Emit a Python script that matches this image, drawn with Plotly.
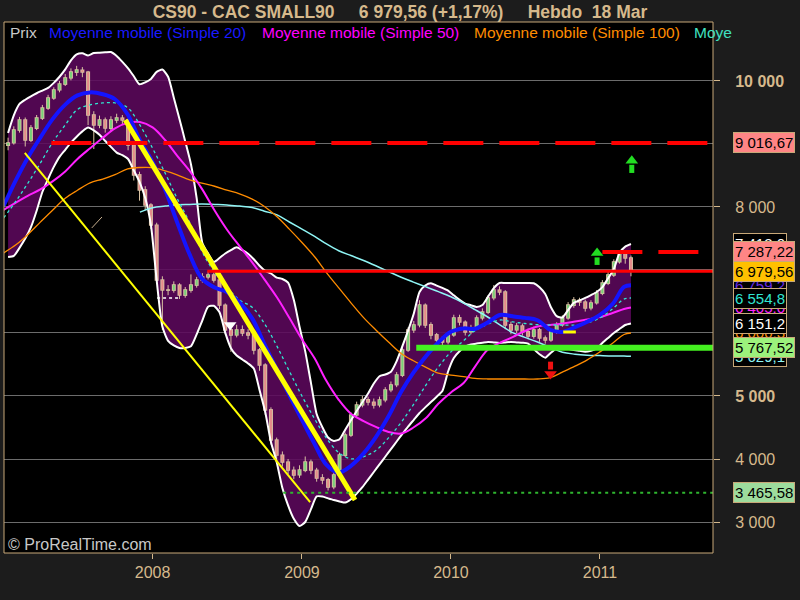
import plotly.graph_objects as go
import pandas as pd

# ---------------- data ----------------
candle_dates = pd.date_range(end="2011-03-18", periods=110, freq="14D")

close = [9016, 9222, 9381, 9063, 9254, 9413, 9571, 9730, 9857, 9952,
         10048, 10143, 10175, 10143, 9460, 9302, 9381, 9254, 9381, 9413,
         9381, 8984, 8508, 8270, 8032, 7714, 6841, 6683, 6683, 6762,
         6603, 6683, 6762, 6841, 6889, 6921, 6841, 6444, 6048, 5968,
         6048, 6000, 5968, 5730, 5492, 4778, 4302, 4063, 3952, 3825,
         3746, 3825, 3952, 3825, 3698, 3667, 3555, 3746, 4063, 4381,
         4698, 4857, 4937, 4905, 4857, 4937, 5095, 5175, 5333, 5730,
         6048, 6127, 6444, 6127, 5968, 5889, 5857, 5968, 6238, 6175,
         6016, 6079, 6238, 6333, 6556, 6683, 6651, 6127, 6048, 6111,
         6016, 5952, 6048, 5921, 5889, 6016, 6127, 6238, 6444, 6524,
         6492, 6397, 6476, 6635, 6794, 6921, 7127, 7270, 7191, 6980]
open_ = [8980, 9020, 9220, 9380, 9060, 9250, 9410, 9570, 9730, 9860,
         9950, 10050, 10140, 10170, 10140, 9460, 9300, 9380, 9250, 9380,
         9410, 9380, 8980, 8510, 8270, 8030, 7710, 6840, 6680, 6680,
         6760, 6600, 6680, 6760, 6840, 6890, 6920, 6840, 6440, 6050,
         5970, 6050, 6000, 5970, 5730, 5490, 4780, 4300, 4060, 3950,
         3820, 3750, 3820, 3950, 3820, 3700, 3670, 3560, 3750, 4060,
         4380, 4700, 4860, 4940, 4900, 4860, 4940, 5100, 5180, 5330,
         5730, 6050, 6130, 6440, 6130, 5970, 5890, 5860, 5970, 6240,
         6170, 6020, 6080, 6240, 6330, 6560, 6680, 6650, 6130, 6050,
         6110, 6020, 5950, 6050, 5920, 5890, 6020, 6130, 6240, 6440,
         6520, 6490, 6400, 6480, 6630, 6790, 6920, 7130, 7270, 7190]
high = [9100, 9280, 9430, 9420, 9300, 9460, 9620, 9780, 9900, 10000,
        10110, 10200, 10240, 10220, 10160, 9520, 9450, 9420, 9440, 9480,
        9460, 9400, 9000, 8560, 8330, 8060, 7750, 6900, 6760, 6820,
        6790, 6730, 6930, 6890, 6950, 6980, 6960, 6870, 6470, 6100,
        6130, 6120, 6060, 6010, 5760, 5520, 4820, 4340, 4120, 4000,
        3880, 3900, 4040, 3990, 3860, 3760, 3700, 3790, 4100, 4420,
        4740, 4910, 5000, 4990, 4960, 4990, 5140, 5230, 5380, 5780,
        6090, 6190, 6520, 6470, 6170, 6000, 5950, 6010, 6290, 6290,
        6200, 6130, 6280, 6390, 6600, 6760, 6740, 6680, 6180, 6160,
        6150, 6070, 6100, 6080, 5960, 6060, 6170, 6280, 6490, 6570,
        6560, 6530, 6520, 6680, 6840, 6970, 7170, 7290, 7287, 7230]
low = [8900, 8990, 9180, 8960, 9030, 9220, 9380, 9540, 9700, 9820,
       9920, 10010, 10080, 10060, 9300, 8920, 9250, 9180, 9200, 9330,
       9300, 8900, 8420, 8100, 7950, 7650, 6780, 6050, 6600, 6640,
       6540, 6560, 6640, 6720, 6800, 6850, 6800, 6380, 5980, 5700,
       5930, 5950, 5900, 5660, 5400, 4700, 4230, 3980, 3880, 3760,
       3680, 3700, 3790, 3760, 3640, 3600, 3500, 3520, 3720, 4030,
       4350, 4660, 4820, 4850, 4800, 4820, 4900, 5060, 5140, 5300,
       5700, 6000, 6090, 6080, 5900, 5820, 5800, 5820, 5940, 6120,
       5960, 5980, 6050, 6200, 6300, 6520, 6600, 6060, 5980, 6000,
       5960, 5900, 5910, 5860, 5830, 5860, 5990, 6100, 6210, 6400,
       6430, 6340, 6360, 6450, 6600, 6760, 6890, 7100, 7100, 6900]

boll_upper = [9175, 9454, 9635, 9702, 9757, 9805, 9848, 9890, 9970, 10067,
              10183, 10327, 10422, 10440, 10405, 10444, 10449, 10455, 10460, 10398,
              10303, 10200, 10075, 9949, 9978, 10033, 10144, 10181, 10068, 9735,
              9392, 9041, 8679, 8140, 7429, 7262, 7129, 7191, 7262, 7316,
              7360, 7314, 7259, 7171, 7068, 6986, 6944, 6879, 6857, 6800,
              6527, 6100, 5708, 5209, 4714, 4505, 4341, 4287, 4314, 4465,
              4614, 4762, 4902, 5041, 5198, 5313, 5341, 5386, 5554, 5790,
              6038, 6310, 6651, 6754, 6790, 6752, 6716, 6673, 6598, 6525,
              6467, 6441, 6414, 6444, 6579, 6713, 6794, 6794, 6794, 6794,
              6794, 6794, 6789, 6725, 6618, 6408, 6267, 6246, 6364, 6478,
              6517, 6556, 6602, 6651, 6729, 6868, 7014, 7271, 7371, 7413]
boll_lower = [7206, 7224, 7351, 7498, 7679, 7940, 8238, 8443, 8636, 8795,
              8908, 9022, 9116, 9200, 9260, 9216, 9146, 9048, 8954, 8863,
              8824, 8762, 8581, 8400, 8144, 7713, 6838, 6102, 5876, 5803,
              5762, 5762, 5789, 5978, 6200, 6417, 6432, 6329, 6005, 5759,
              5643, 5579, 5517, 5435, 5095, 4746, 4270, 3952, 3540, 3263,
              3051, 2935, 3000, 3203, 3406, 3403, 3375, 3348, 3327, 3308,
              3360, 3451, 3552, 3673, 3794, 3914, 4036, 4157, 4278, 4398,
              4514, 4622, 4730, 4819, 4903, 4989, 5079, 5389, 5603, 5711,
              5782, 5817, 5832, 5844, 5856, 5849, 5843, 5849, 5857, 5851,
              5846, 5832, 5744, 5663, 5608, 5687, 5755, 5771, 5749, 5730,
              5716, 5703, 5719, 5754, 5841, 5921, 6000, 6064, 6127, 6151]

ma_dates = list(pd.date_range("2007-01-01", periods=51, freq="MS")) + [pd.Timestamp("2011-03-18")]
ma20 = [8016, 8438, 8779, 9102, 9394, 9625, 9771, 9819, 9790, 9710,
        9468, 9060, 8713, 8268, 7760, 7243, 6863, 6721, 6651, 6484,
        6232, 5822, 5413, 5013, 4621, 4238, 3916, 3784, 3892, 4089,
        4348, 4679, 5067, 5370, 5633, 5849, 6019, 6073, 6067, 6167,
        6286, 6265, 6240, 6202, 6051, 6017, 6092, 6179, 6289, 6460,
        6732, 6759]
ma_dashed = [7825, 8100, 8373, 8695, 9024, 9302, 9548, 9621, 9651, 9651,
             9576, 9300, 8932, 8535, 8138, 7752, 7295, 6962, 6730, 6524,
             6408, 6151, 5787, 5394, 5000, 4637, 4341, 4103, 4003, 4037,
             4135, 4335, 4581, 4862, 5176, 5460, 5700, 5878, 6038, 6138,
             6206, 6176, 6151, 6132, 6127, 6127, 6127, 6160, 6237, 6384,
             6538, 6555]
ma50 = [7952, 8073, 8176, 8278, 8406, 8565, 8762, 8933, 9098, 9249,
        9335, 9349, 9263, 9059, 8816, 8571, 8287, 7944, 7643, 7378,
        7121, 6851, 6562, 6241, 5900, 5598, 5248, 4940, 4719, 4603,
        4510, 4430, 4405, 4500, 4651, 4876, 5057, 5206, 5467, 5732,
        5844, 5933, 6032, 6103, 6127, 6149, 6181, 6216, 6252, 6317,
        6382, 6405]
ma100 = [7270, 7403, 7560, 7759, 7949, 8138, 8265, 8383, 8443, 8514,
         8603, 8627, 8624, 8573, 8511, 8430, 8378, 8329, 8268, 8208,
         8125, 8008, 7844, 7649, 7437, 7210, 6967, 6717, 6479, 6244,
         6048, 5856, 5675, 5559, 5454, 5362, 5332, 5306, 5279, 5270,
         5270, 5270, 5270, 5270, 5291, 5379, 5473, 5573, 5700, 5838,
         5976, 6000]
ma_long_dates = ma_dates[11:]
ma_long = [7919, 7989, 8014, 8035, 8041, 8046, 8040, 8032, 8014, 7992,
           7933, 7875, 7762, 7649, 7533, 7417, 7306, 7229, 7151, 7067,
           6975, 6884, 6808, 6732, 6657, 6575, 6473, 6371, 6254, 6129,
           6005, 5930, 5857, 5771, 5694, 5664, 5648, 5641, 5635, 5635,
           5629]

# drawn objects (trend lines / levels / arrows)
trend_thin_x = ["2007-02-22", "2009-01-21"]
trend_thin_y = [8857, 3317]
trend_thick_x = ["2007-10-26", "2009-05-11"]
trend_thick_y = [9381, 3349]
level_red_dash_hi = 9016.67
level_red_dash_lo = 7287.22
level_red_solid = 6979.56
level_green = 5767.52
level_green_dot = 3465.58
level_starts = {"r9016": "2007-04-28", "r7287": "2011-01-07", "r6979": "2008-05-14",
                "g5767": "2009-10-08", "g3465": "2008-11-16"}
x_end = "2011-12-31"
arrow_dates = ["2011-03-20", "2010-12-25", "2010-09-02"]
arrow_head = [8735, 7270, 5350]
arrow_stem_a = [8670, 7200, 5420]
arrow_stem_b = [8540, 7080, 5545]
arrow_symbol = ["triangle-up", "triangle-up", "triangle-down"]
arrow_color = ["#22dd22", "#22dd22", "#ee1111"]

y_tickvals = [3000, 4000, 5000, 8000, 10000]
y_ticktext = ["3 000", "4 000", "<b>5 000</b>", "8 000", "<b>10 000</b>"]
x_tickvals = ["2008-01-01", "2009-01-01", "2010-01-01", "2011-01-01"]
x_ticktext = ["2008", "2009", "2010", "2011"]

TAN = "#d6b98c"
FONT = "Liberation Sans, Arial, sans-serif"

fig = go.Figure()

# Bollinger fill
fig.add_trace(go.Scatter(x=candle_dates, y=boll_upper, mode="lines",
                         line=dict(width=0, shape="spline", smoothing=0.6), hoverinfo="skip"))
fig.add_trace(go.Scatter(x=candle_dates, y=boll_lower, mode="lines", fill="tonexty",
                         fillcolor="rgba(92,8,92,0.88)",
                         line=dict(width=0, shape="spline", smoothing=0.6), hoverinfo="skip"))

# candles built as line segments (so they sit above the band fill)
wx, wy = [], []
box, boy = [], []
ux, uy, dx, dy = [], [], [], []
for d, o, h, l, c in zip(candle_dates, open_, high, low, close):
    wx += [d, d, None]
    wy += [l, h, None]
    box += [d, d, None]
    boy += [min(o, c) - 12, max(o, c) + 12, None]
    if c >= o:
        ux += [d, d, None]
        uy += [o, c, None]
    else:
        dx += [d, d, None]
        dy += [o, c, None]
fig.add_trace(go.Scatter(x=wx, y=wy, mode="lines", line=dict(color="#d9c2a2", width=1)))
fig.add_trace(go.Scatter(x=box, y=boy, mode="lines", line=dict(color="#d9c2a2", width=4)))
fig.add_trace(go.Scatter(x=ux, y=uy, mode="lines", line=dict(color="#78d078", width=2)))
fig.add_trace(go.Scatter(x=dx, y=dy, mode="lines", line=dict(color="#e58a8a", width=2)))

# Bollinger lines
for arr in (boll_upper, boll_lower):
    fig.add_trace(go.Scatter(x=candle_dates, y=arr, mode="lines",
                             line=dict(color="white", width=2, shape="spline", smoothing=0.6)))

fig.add_trace(go.Scatter(x=ma_long_dates, y=ma_long, mode="lines",
                         line=dict(color="#8ff5f5", width=1.5, shape="spline")))
fig.add_trace(go.Scatter(x=ma_dates, y=ma100, mode="lines",
                         line=dict(color="#ff8c00", width=1.3, shape="spline")))
fig.add_trace(go.Scatter(x=ma_dates, y=ma50, mode="lines",
                         line=dict(color="#ff20ff", width=2, shape="spline")))
fig.add_trace(go.Scatter(x=ma_dates, y=ma_dashed, mode="lines",
                         line=dict(color="#30e6d2", width=1.3, dash="3px,3px", shape="spline")))
fig.add_trace(go.Scatter(x=ma_dates, y=ma20, mode="lines",
                         line=dict(color="#1414ff", width=4, shape="spline")))

# trend lines and small drawings
fig.add_trace(go.Scatter(x=trend_thin_x, y=trend_thin_y, mode="lines",
                         line=dict(color="#ffff00", width=2)))
fig.add_trace(go.Scatter(x=trend_thick_x, y=trend_thick_y, mode="lines",
                         line=dict(color="#ffff00", width=5)))
fig.add_trace(go.Scatter(x=["2010-10-03", "2010-11-03"], y=[6016, 6016], mode="lines",
                         line=dict(color="#ffff00", width=3)))
fig.add_trace(go.Scatter(x=["2007-08-05", "2007-08-30"], y=[7667, 7841], mode="lines",
                         line=dict(color="#c8b090", width=1)))
fig.add_trace(go.Scatter(x=["2008-01-12", "2008-03-08"], y=[6555, 6555], mode="lines",
                         line=dict(color="white", width=1.5, dash="3px,3px")))
fig.add_trace(go.Scatter(x=["2008-07-09"], y=[6127], mode="markers",
                         marker=dict(symbol="triangle-down", size=11, color="white")))

# horizontal levels
fig.add_trace(go.Scatter(x=[level_starts["r9016"], x_end], y=[level_red_dash_hi] * 2, mode="lines",
                         line=dict(color="#ff0000", width=4, dash="40px,16px")))
fig.add_trace(go.Scatter(x=[level_starts["r7287"], x_end], y=[level_red_dash_lo] * 2, mode="lines",
                         line=dict(color="#ff0000", width=4, dash="40px,16px")))
fig.add_trace(go.Scatter(x=[level_starts["r6979"], x_end], y=[level_red_solid] * 2, mode="lines",
                         line=dict(color="#ff0000", width=3)))
fig.add_trace(go.Scatter(x=[level_starts["g5767"], x_end], y=[level_green] * 2, mode="lines",
                         line=dict(color="#44f020", width=6)))
fig.add_trace(go.Scatter(x=[level_starts["g3465"], x_end], y=[level_green_dot] * 2, mode="lines",
                         line=dict(color="#2fb52f", width=2, dash="3px,4px")))

# arrows
for d, hd, sa, sb, sym, col in zip(arrow_dates, arrow_head, arrow_stem_a, arrow_stem_b,
                                   arrow_symbol, arrow_color):
    fig.add_trace(go.Scatter(x=[d, d], y=[sa, sb], mode="lines", line=dict(color=col, width=5)))
    fig.add_trace(go.Scatter(x=[d], y=[hd], mode="markers",
                             marker=dict(symbol=sym, size=11, color=col, line=dict(width=0))))

annotations = []
# legend strip
legend_items = [("Prix", 8, "#c8c8c8"),
                ("Moyenne mobile (Simple 20)", 47, "#1a1aff"),
                ("Moyenne mobile (Simple 50)", 260, "#ff00ff"),
                ("Moyenne mobile (Simple 100)", 472, "#ff8c00"),
                ("Moye", 692, "#40e0c0")]
for txt, px, col in legend_items:
    annotations.append(dict(text=txt, xref="paper", yref="paper", x=(px - 4) / 709, y=0.9793,
                            xanchor="left", yanchor="middle", showarrow=False,
                            font=dict(color=col, size=15.5, family=FONT)))
annotations.append(dict(text="© ProRealTime.com", xref="paper", yref="paper", x=0.003, y=0.016,
                        xanchor="left", yanchor="middle", showarrow=False,
                        font=dict(color="#c8c8c8", size=16, family=FONT)))

# price labels on the right (bottom-most drawn first, as stacked in the reference)
price_labels = [
    (7413, "7 413,0", "white", "black"),
    (6405, "6 405,0", "#ff20ff", "black"),
    (6759.2, "6 759,2", "#6a2be0", "black"),
    (6554.8, "6 554,8", "#30e6d2", "black"),
    (6000, "6 000,3", "#ff8c00", "black"),
    (5629.1, "5 629,1", "#8ff5f5", "black"),
    (6151.2, "6 151,2", "white", "black"),
    (7287.22, "7 287,22", "black", "#ff8585"),
    (6979.56, "6 979,56", "black", "#ffc000"),
    (5767.52, "5 767,52", "black", "#9cf27c"),
    (9016.67, "9 016,67", "black", "#ff8585"),
    (3465.58, "3 465,58", "black", "#9ddc9d"),
]
for val, txt, fc, bg in price_labels:
    annotations.append(dict(text=txt, xref="paper", yref="y", x=1, y=val, xanchor="left",
                            yanchor="middle", xshift=20, showarrow=False,
                            font=dict(color=fc, size=15, family=FONT),
                            bgcolor=bg, bordercolor="#c8a878", borderwidth=1, borderpad=1))

fig.update_layout(
    width=800, height=600,
    paper_bgcolor="#1c1c1c", plot_bgcolor="#000000",
    margin=dict(l=4, r=87, t=22, b=47),
    showlegend=False,
    font=dict(family=FONT, color=TAN),
    title=dict(text="<b>CS90 - CAC SMALL90\u00a0\u00a0\u00a0\u00a0 6 979,56 (+1,17%)\u00a0\u00a0\u00a0\u00a0 Hebdo\u00a0 18 Mar</b>",
               x=0.5, xref="container", xanchor="center", y=0.98, yref="container", yanchor="middle",
               font=dict(size=17.5, color=TAN, family=FONT)),
    xaxis=dict(type="date", range=["2007-01-02", "2011-10-05"], tickvals=x_tickvals, ticktext=x_ticktext,
               ticks="outside", ticklen=5, tickcolor=TAN, showgrid=False, zeroline=False,
               showline=False, tickfont=dict(size=16, color=TAN, family=FONT)),
    yaxis=dict(side="right", range=[2508, 10936], tickvals=y_tickvals, ticktext=y_ticktext,
               ticks="outside", ticklen=6, tickcolor=TAN, showgrid=True, gridcolor="#6c6c6c",
               gridwidth=1, zeroline=False, showline=False, ticklabelstandoff=12,
               minor=dict(tickmode="array", tickvals=[6000, 7000, 9000], showgrid=True,
                          gridcolor="#6c6c6c", ticks=""),
               tickfont=dict(size=16, color=TAN, family=FONT)),
    annotations=annotations,
    shapes=[dict(type="rect", xref="paper", yref="paper", x0=0, x1=1, y0=0, y1=1,
                 line=dict(color="#c8a878", width=1), layer="above")],
)

fig.write_html("out.html", config={"displayModeBar": False},
               post_script="document.body.style.margin='0px';")
